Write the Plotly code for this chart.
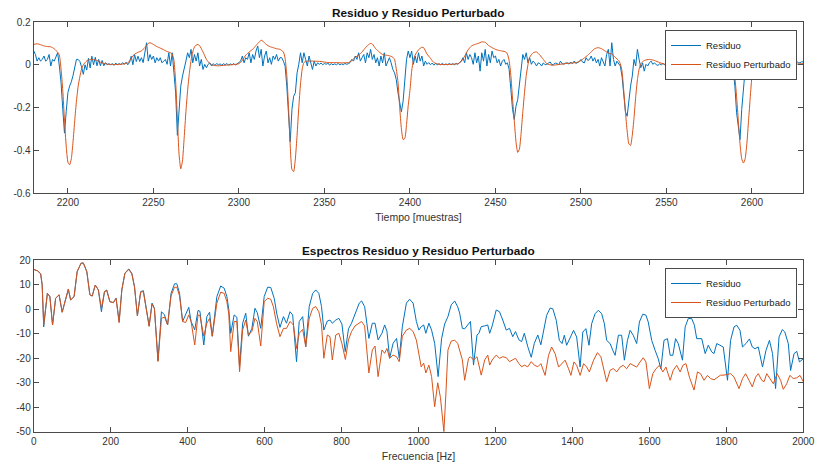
import plotly.graph_objects as go

# ---------------- Top panel data: Residuo (per sample) ----------------
t_start = 2180
residuo = [
    0.065, 0.048, 0.017, 0.033, 0.017, 0.025, 0.041, 0.017, 0.025, 0.048,   # 2180
    -0.006, 0.025, 0.017, 0.041, 0.056, -0.006, -0.084, -0.209, -0.32, -0.22,  # 2190
    -0.13, -0.10, -0.08, -0.05, -0.01, 0.025, 0.025, 0.015, -0.01, -0.045,  # 2200
    0.0, -0.025, 0.03, -0.015, 0.04, 0.0, 0.035, -0.005, 0.025, -0.005,     # 2210
    0.02, -0.005, 0.01, 0.0, 0.005, 0.0, 0.005, -0.003, 0.008, 0.0,         # 2220
    0.006, 0.0, 0.01, 0.002, 0.012, 0.0, 0.01, 0.04, 0.0, 0.048,            # 2230
    0.015, 0.04, 0.015, 0.033, 0.01, 0.056, 0.103, 0.017, 0.048, 0.025,     # 2240
    0.041, 0.009, 0.033, 0.017, 0.033, 0.009, 0.017, 0.025, 0.002, 0.056,   # 2250
    -0.006, 0.056, -0.038, -0.131, -0.33, -0.21, -0.10, -0.053, -0.022, 0.017,  # 2260
    0.056, 0.033, 0.072, 0.009, 0.048, 0.017, 0.056, -0.006, 0.025, -0.022, # 2270
    0.002, -0.014, 0.002, 0.009, -0.006, 0.005, -0.003, 0.006, 0.0, 0.004,  # 2280
    -0.002, 0.005, 0.0, 0.006, -0.002, 0.004, 0.0, 0.006, -0.002, 0.005,    # 2290
    0.009, 0.017, 0.041, 0.009, 0.033, 0.025, 0.056, 0.009, 0.048, 0.025,   # 2300
    0.064, 0.088, 0.033, 0.072, -0.006, 0.041, 0.064, 0.009, 0.033, 0.002,  # 2310
    0.041, 0.025, 0.048, 0.017, 0.033, 0.033, 0.017, -0.006, -0.1, -0.209,  # 2320
    -0.36, -0.209, -0.147, -0.131, -0.038, 0.002, 0.056, 0.009, 0.056, 0.025,  # 2330
    -0.006, 0.041, 0.002, -0.022, 0.017, -0.006, 0.009, 0.002, 0.008, 0.0,  # 2340
    0.006, 0.002, 0.008, -0.002, 0.005, 0.0, 0.004, 0.0, 0.006, 0.0,        # 2350
    0.004, 0.0, 0.006, 0.002, 0.005, 0.01, 0.025, 0.017, 0.041, 0.025,      # 2360
    0.056, 0.017, 0.033, 0.048, 0.009, 0.056, 0.033, 0.072, 0.025, 0.048,   # 2370
    0.009, 0.033, -0.006, 0.041, 0.009, 0.056, -0.006, 0.017, 0.033, 0.009, # 2380
    -0.022, -0.038, -0.069, -0.131, -0.17, -0.22, -0.17, -0.053, 0.025, 0.064,  # 2390
    0.033, 0.064, 0.002, 0.041, 0.009, 0.056, 0.017, 0.041, -0.006, 0.017,  # 2400
    0.002, 0.01, 0.0, 0.008, -0.002, 0.006, 0.0, 0.005, 0.0, 0.007,         # 2410
    -0.001, 0.004, 0.0, 0.006, 0.0, 0.005, 0.0, 0.006, 0.002, 0.01,         # 2420
    0.017, 0.033, 0.009, 0.056, 0.025, 0.048, 0.033, 0.002, 0.056, 0.009,   # 2430
    0.041, -0.03, 0.056, 0.017, 0.072, -0.006, 0.048, 0.009, 0.064, 0.033,  # 2440
    0.041, 0.009, 0.025, -0.006, 0.017, 0.025, 0.002, 0.009, -0.022, -0.116,  # 2450
    -0.209, -0.256, -0.194, -0.163, -0.084, -0.006, 0.048, 0.025, 0.056, 0.009,  # 2460
    0.033, 0.002, 0.017, 0.009, -0.006, 0.009, 0.005, -0.006, 0.009, 0.0,   # 2470
    0.002, 0.008, 0.013, 0.0, 0.002, 0.008, 0.006, 0.0, 0.017, 0.005,       # 2480
    0.002, 0.008, 0.009, 0.003, 0.013, 0.005, 0.017, 0.006, 0.009, 0.015,   # 2490
    0.025, 0.012, 0.009, 0.033, 0.02, 0.025, 0.041, 0.017, 0.033, 0.009,    # 2500
    0.025, -0.006, 0.033, 0.017, -0.006, 0.048, 0.072, -0.006, 0.103, 0.025,  # 2510
    -0.006, 0.017, 0.002, -0.006, -0.053, -0.131, -0.22, -0.241, -0.163, -0.1,  # 2520
    -0.053, 0.025, -0.006, 0.072, 0.025, -0.014, 0.009, -0.03, 0.002, -0.006,  # 2530
    0.009, 0.017, 0.002, 0.009, 0.0, -0.003, 0.004, 0.0, 0.006, 0.0,        # 2540
    0.005, 0.0, 0.004, 0.0, 0.006, 0.002, 0.0, 0.005, 0.0, 0.006,          # 2550
    0.002, 0.005, 0.0, 0.007, 0.004, 0.009, 0.009, 0.02, 0.033, 0.045,      # 2560
    0.056, 0.03, 0.009, 0.033, -0.022, 0.048, 0.072, -0.006, 0.056, 0.033,  # 2570
    -0.022, 0.048, -0.006, 0.072, 0.025, 0.002, 0.041, -0.006, 0.009, -0.022,  # 2580
    -0.1, -0.225, -0.30, -0.35, -0.209, -0.1, -0.022, 0.041, 0.025, 0.07,   # 2590
    0.07, 0.056, -0.006, 0.009, -0.014, 0.002, 0.009, 0.002, 0.009, 0.005,  # 2600
    0.013, 0.005, 0.002, 0.008, 0.009, 0.004, 0.002, 0.008, 0.006, 0.01,    # 2610
    0.013, 0.008, 0.006, 0.012, 0.009, 0.015, 0.017, 0.01, 0.009, 0.014,    # 2620
    0.013,                                                                   # 2630
]
muestras = list(range(t_start, t_start + len(residuo)))

# ---------------- Top panel data: Residuo Perturbado ----------------
perturbado_pts = [
    (2180, 0.095), (2182, 0.098), (2184, 0.094), (2186, 0.088), (2188, 0.085),
    (2190, 0.084), (2192, 0.075), (2194, 0.058), (2195, 0.045), (2196, -0.02),
    (2197, -0.12), (2198, -0.26), (2199, -0.38), (2200, -0.455), (2201, -0.468),
    (2202, -0.44), (2203, -0.36), (2204, -0.26), (2205, -0.17), (2206, -0.10),
    (2207, -0.055), (2208, -0.02), (2209, 0.0), (2211, 0.018), (2213, 0.025),
    (2215, 0.024), (2217, 0.02), (2219, 0.012), (2221, 0.006), (2224, 0.002),
    (2228, 0.001), (2232, 0.003), (2235, 0.008), (2237, 0.03), (2239, 0.05),
    (2241, 0.058), (2243, 0.065), (2245, 0.08), (2247, 0.1), (2248, 0.103),
    (2250, 0.095), (2252, 0.085), (2254, 0.078), (2256, 0.07), (2258, 0.062),
    (2260, 0.056), (2261, 0.05), (2262, 0.02), (2263, -0.08), (2264, -0.25),
    (2265, -0.42), (2266, -0.487), (2267, -0.45), (2268, -0.34), (2269, -0.22),
    (2270, -0.12), (2271, -0.04), (2272, 0.02), (2273, 0.06), (2274, 0.083),
    (2275, 0.092), (2276, 0.095), (2277, 0.09), (2279, 0.06), (2281, 0.025),
    (2283, 0.005), (2285, -0.003), (2288, -0.005), (2292, -0.002), (2296, 0.0),
    (2300, 0.005), (2302, 0.02), (2304, 0.045), (2306, 0.06), (2308, 0.072),
    (2310, 0.09), (2312, 0.108), (2313, 0.115), (2314, 0.11), (2316, 0.095),
    (2318, 0.085), (2320, 0.08), (2322, 0.075), (2324, 0.072), (2326, 0.06),
    (2327, 0.03), (2328, -0.05), (2329, -0.2), (2330, -0.38), (2331, -0.49),
    (2332, -0.5), (2333, -0.44), (2334, -0.33), (2335, -0.2), (2336, -0.09),
    (2337, -0.02), (2338, 0.01), (2340, 0.017), (2344, 0.017), (2348, 0.015),
    (2352, 0.01), (2356, 0.01), (2360, 0.009), (2364, 0.01), (2366, 0.02),
    (2368, 0.035), (2370, 0.045), (2372, 0.06), (2374, 0.08), (2376, 0.095),
    (2377, 0.1), (2378, 0.097), (2380, 0.075), (2382, 0.06), (2384, 0.048),
    (2386, 0.045), (2388, 0.042), (2390, 0.035), (2391, 0.025), (2392, -0.02),
    (2393, -0.08), (2394, -0.2), (2395, -0.3), (2396, -0.35), (2397, -0.345),
    (2398, -0.28), (2399, -0.19), (2400, -0.12), (2401, -0.03), (2402, 0.02),
    (2403, 0.045), (2405, 0.07), (2407, 0.082), (2408, 0.08), (2410, 0.05),
    (2412, 0.03), (2414, 0.01), (2417, 0.002), (2420, 0.001), (2424, 0.002),
    (2428, 0.005), (2430, 0.015), (2432, 0.04), (2434, 0.07), (2436, 0.088),
    (2438, 0.095), (2440, 0.1), (2442, 0.107), (2444, 0.105), (2446, 0.09),
    (2448, 0.08), (2450, 0.072), (2452, 0.067), (2454, 0.064), (2456, 0.06),
    (2457, 0.05), (2458, 0.02), (2459, -0.05), (2460, -0.16), (2461, -0.26),
    (2462, -0.36), (2463, -0.41), (2464, -0.395), (2465, -0.32), (2466, -0.22),
    (2467, -0.13), (2468, -0.05), (2469, 0.0), (2470, 0.035), (2472, 0.056),
    (2474, 0.06), (2476, 0.045), (2478, 0.025), (2480, 0.005), (2483, -0.002),
    (2487, 0.001), (2491, 0.006), (2495, 0.008), (2498, 0.012), (2500, 0.02),
    (2502, 0.032), (2504, 0.045), (2506, 0.06), (2508, 0.075), (2510, 0.08),
    (2512, 0.075), (2514, 0.065), (2516, 0.055), (2518, 0.05), (2520, 0.035),
    (2522, 0.02), (2523, 0.005), (2524, -0.03), (2525, -0.12), (2526, -0.22),
    (2527, -0.31), (2528, -0.37), (2529, -0.378), (2530, -0.33), (2531, -0.25),
    (2532, -0.15), (2533, -0.07), (2534, -0.02), (2535, 0.005), (2537, 0.02),
    (2540, 0.025), (2543, 0.02), (2546, 0.01), (2550, 0.0), (2555, -0.002),
    (2560, 0.002), (2564, 0.01), (2566, 0.025), (2568, 0.04), (2570, 0.055),
    (2572, 0.07), (2574, 0.08), (2576, 0.085), (2578, 0.088), (2580, 0.085),
    (2582, 0.07), (2584, 0.055), (2586, 0.035), (2588, 0.02), (2589, 0.0),
    (2590, -0.06), (2591, -0.15), (2592, -0.26), (2593, -0.37), (2594, -0.44),
    (2595, -0.46), (2596, -0.44), (2597, -0.37), (2598, -0.26), (2599, -0.15),
    (2600, -0.05), (2601, 0.01), (2602, 0.035), (2604, 0.04), (2606, 0.025),
    (2608, 0.012), (2610, 0.003), (2614, -0.001), (2618, 0.0), (2622, -0.002),
    (2626, 0.003), (2630, 0.005),
]
pert_t = [p[0] for p in perturbado_pts]
pert_v = [p[1] for p in perturbado_pts]

# ---------------- Bottom panel data: spectra (Hz, dB) ----------------
espectro_residuo = [
    (0, 16.3), (10, 15.7), (18, 14.5), (22, 10), (26, -7.2), (30, 0), (35.5, 6.5),
    (42, 5.2), (49, -6.4), (57, 4.5), (66, 5.9), (74, -1.2), (82, 4), (90, 8.2),
    (96, 3.8), (105, 5.2), (113, 15.4), (123, 18.8), (129, 18.9), (138, 15.4),
    (146, 5.9), (152, 5.4), (160, 9.9), (168, 7.9), (176, -1), (184, 7.2),
    (190, 7.9), (198, 3.1), (207, 2.7), (214, 4.5), (222, -5), (229, 7.9),
    (237, 14.7), (247, 16.5), (255, 14.7), (262, 9.3), (269.5, -2.7), (278, 7.2),
    (285, 7.6), (292, 1.1), (300, -6.8), (307.6, 2.5), (313.7, 0.4), (323, -21),
    (332, -1), (340, -2.3), (348, -6.4), (357, 6.5), (366, 10.4), (372, 10.4),
    (379, 6.5), (387, -5), (395, -2.3), (403, 0.8), (409, -5), (418.5, -8.4),
    (427, -0.5), (432, -0.8), (442, -14.6), (450, -3), (457, -1.2), (464, -11),
    (476, 5.2), (486, 9.5), (495, 8.6), (502, 5.2), (507, 0), (512, -9.8),
    (521, -2.3), (528, -3.3), (535, -23.4), (543, -5.7), (551, -1.6), (558, -11),
    (567, -7.8), (575, 0.4), (581, -1.4), (590, -7.8), (599, 5.2), (608, 9),
    (616, 8.9), (625, 4.5), (632, -2), (640, -7.4), (649, -3), (657, -5.7),
    (666, -1), (673, -2.3), (683, -21.4), (690, -5), (699, -3), (707, -15.3),
    (716, 1.1), (725, 6.5), (733, 7.9), (741, 6.5), (748, 1.1), (754, -8.5),
    (763, -4.8), (770, -4.4), (776, -5.7), (785, -4.4), (793, -3.7), (801, -6),
    (809.5, -17.3), (818, -8), (826, -5.7), (835, -2.3), (846, 2.5), (852, 3.4),
    (860, 1.1), (871, -11.9), (880, -5.7), (887, -5.7), (895, -12.5), (905, -9.8),
    (912, -6.4), (918, -9), (925, -20), (934, -13.9), (943, -11.9), (950, -20),
    (958, -7.1), (968.5, 2.5), (977, 4.1), (986, 2.5), (994.5, -5), (1001, -8.5),
    (1007, -7.1), (1013.5, -6.4), (1019, -9.8), (1027, -5.7), (1034, -8.5),
    (1042, -13.9), (1051, -27.5), (1060, -12), (1068, -6), (1076.5, -3),
    (1085, 1.8), (1094, 3.4), (1102, 1), (1107, -1.6), (1114, -7.8), (1120, -8),
    (1130, -5.7), (1135, -5), (1143, -22.8), (1152, -10.5), (1157, -9.8),
    (1163, -7.1), (1172, -6.8), (1180, -6.4), (1185, -9.8), (1191.5, -6.8),
    (1202, -0.3), (1210.5, -1), (1219, -4.4), (1228, -8.5), (1236.5, -7.8),
    (1245, -11.2), (1252, -9.1), (1261, -12.5), (1268, -13.2), (1275, -9.8),
    (1284, -15.3), (1293, -19.6), (1301, -13.9), (1310, -10.5), (1318, -14.5),
    (1325, -8.6), (1333, -2.5), (1342, 0.5), (1349, 0.2), (1358, -4.5),
    (1366, -12.7), (1373, -14), (1379, -10.6), (1385, -14.7), (1394, -11.3),
    (1403, -8.6), (1411, -11.3), (1420, -23.6), (1427, -9.3), (1435, -7.9),
    (1443, -14.7), (1450, -5.9), (1459, -1.8), (1467.5, -0.4), (1476, -1.8),
    (1483, -5.9), (1489, -12.7), (1498, -14), (1505, -16.8), (1511, -18.8),
    (1519.5, -10.6), (1528, -10.6), (1535, -20.8), (1543, -12.7), (1550, -8.6),
    (1558, -10.6), (1567, -14), (1574, -5.2), (1583, -2), (1591, -2.4),
    (1597, -5.2), (1606, -12.7), (1615, -16.8), (1623, -20.2), (1630, -24.3),
    (1638, -12.7), (1647, -12), (1654, -18.8), (1661, -18.8), (1668, -12),
    (1675, -14), (1686, -20.8), (1693, -7.2), (1701, -3.8), (1710, -3.8),
    (1717, -6.5), (1723, -12), (1736, -12), (1745, -18.1), (1753, -14.7),
    (1762, -17.4), (1768, -18.1), (1775, -14), (1783.5, -14.7), (1792, -15.4),
    (1803, -29), (1811, -12.7), (1820, -7.2), (1827, -6.5), (1835.5, -8.6),
    (1842, -15.4), (1851, -14), (1860, -12.1), (1867.5, -15.4), (1874.5, -16.1),
    (1883, -15.4), (1894, -23.6), (1903, -16.8), (1912, -12.7), (1920, -18.1),
    (1928, -32.4), (1937, -11.3), (1945.5, -8.3), (1952, -9.3), (1961, -14),
    (1967, -25), (1976, -18.1), (1983, -17.2), (1990, -21.5), (2000, -20.2),
]
espectro_perturbado = [
    (0, 16.3), (10, 15.7), (18, 14.5), (22, 10), (26, -6.3), (30, 0), (35.5, 6.5),
    (42, 5.2), (49, -6.4), (57, 4.5), (66, 5.9), (74, -1.2), (82, 4), (90, 8.2),
    (96, 3.8), (105, 5.2), (113, 15.4), (123, 18.8), (129, 18.9), (138, 15.4),
    (146, 5.9), (152, 5.4), (160, 9.9), (168, 7.9), (176, 0.4), (184, 7.2),
    (190, 7.6), (198, 3.1), (207, 2.7), (214, 4.5), (222, -5.5), (229, 7.9),
    (237, 14.7), (247, 16.2), (255, 14.5), (262, 9), (269.5, -2.7), (278, 7.0),
    (285, 7.2), (292, 1), (300, -7), (307.6, 2.2), (313.7, 0.2), (323, -21.3),
    (332, -3.7), (340, -3.2), (348, -6.4), (357, 5.5), (366, 9), (372, 9),
    (379, 5.5), (387, -5), (395, -5.4), (403, -2.3), (409, -5), (418.5, -14.6),
    (427, -2.3), (432, -2.6), (442, -11), (450, -5.7), (457, -3.7), (464, -11),
    (476, 2.5), (486, 7), (495, 6.5), (502, 3.1), (507, -2), (512, -17.3),
    (521, -5), (528, -5), (535, -25.5), (543, -8.4), (551, -4.4), (558, -10.5),
    (567, -9.1), (575, -3.7), (581, -5), (590, -15), (599, 3.1), (608, 4.5),
    (616, 4.1), (623, 1), (631, -5.7), (640, -11.2), (649, -7.8), (657, -7.8),
    (666, -5), (675, -6.4), (683, -16), (690, -9.8), (699, -8.2), (707, -15.3),
    (716, -3.7), (725, 0.4), (733, 1.1), (741, -1), (748, -6.4), (754, -20),
    (763, -10.5), (770, -11.2), (776, -20.7), (785, -10.5), (793, -9.8),
    (801, -14), (810, -20.5), (818, -12.5), (826, -9.1), (835, -6.8), (846, -5.7),
    (852, -5), (860, -6.8), (871, -26), (880, -16.6), (887, -15), (895, -27.5),
    (905, -16.6), (912, -18), (918, -16), (925, -20), (934, -18.7), (943, -19.4),
    (950, -21.4), (958, -11), (968.5, -8.5), (977, -7.8), (986, -9.1),
    (994.5, -12.6), (1001, -18), (1007, -23.5), (1013.5, -22), (1019, -26),
    (1027, -22.8), (1034, -27.5), (1042, -39.8), (1050, -30), (1057, -36),
    (1066, -50), (1071, -35), (1076.5, -16.6), (1085, -13), (1094, -12.6),
    (1102, -14), (1107, -16.6), (1114, -20.7), (1120, -29), (1130, -20),
    (1135, -19.4), (1143, -20.7), (1152, -19.4), (1157, -22.8), (1163, -26.9),
    (1172, -20.7), (1180, -18.7), (1185, -22.8), (1191.5, -20.7), (1202, -18.7),
    (1210.5, -20), (1219, -19.4), (1228, -19.7), (1236.5, -21.4), (1245, -20.7),
    (1252, -20), (1261, -22.2), (1268, -23.5), (1275, -22.8), (1284, -23.5),
    (1293, -21.4), (1301, -22.8), (1310, -23.5), (1318, -22.2), (1329, -27),
    (1338, -18.8), (1346, -15.4), (1355, -18.1), (1364, -23.6), (1372, -22.2),
    (1381, -20.8), (1390, -24.3), (1396, -27), (1404, -21.5), (1411, -22.9),
    (1420, -27), (1429, -22.2), (1437, -23.6), (1444, -25.6), (1455, -20.8),
    (1465, -17.7), (1474, -19.4), (1482, -24.9), (1489, -29.6), (1498, -24.9),
    (1506.5, -24.2), (1515, -25.6), (1524, -23.6), (1532, -22.9), (1541, -24.3),
    (1550, -22.2), (1558, -22.9), (1567, -23.6), (1576, -21.5), (1584, -19.8),
    (1591, -21.5), (1600, -32.4), (1609, -26.3), (1617, -24.3), (1626, -22.9),
    (1635, -25.6), (1643, -23.6), (1654, -29), (1662, -24.9), (1671, -22.9),
    (1680, -25.6), (1687, -22.9), (1695, -22.2), (1704, -27.7), (1716, -33),
    (1725, -25.6), (1733, -26.3), (1742, -29), (1751, -27), (1759, -28.3),
    (1768, -28.8), (1777, -27.7), (1785, -26.9), (1794, -26.9), (1803, -26.6),
    (1811, -26.3), (1820, -27.7), (1833, -32.4), (1842, -28.3), (1850, -26.3),
    (1859, -29), (1867.5, -31.7), (1876, -27.7), (1883, -26.3), (1892, -29),
    (1898, -29.6), (1905, -26.3), (1914, -28.8), (1922, -30.4), (1932, -26.3),
    (1941, -29), (1948, -32.7), (1957, -30.4), (1965, -27), (1974, -28.3),
    (1983, -28), (1991.5, -27), (2000, -29.6),
]
f_res = [p[0] for p in espectro_residuo]
v_res = [p[1] for p in espectro_residuo]
f_pert = [p[0] for p in espectro_perturbado]
v_pert = [p[1] for p in espectro_perturbado]

# ---------------- Tick labels ----------------
top_xticks = [2200, 2250, 2300, 2350, 2400, 2450, 2500, 2550, 2600]
top_yticks = [-0.6, -0.4, -0.2, 0, 0.2]
top_ytext = ["-0.6", "-0.4", "-0.2", "0", "0.2"]
bot_xticks = [0, 200, 400, 600, 800, 1000, 1200, 1400, 1600, 1800, 2000]
bot_yticks = [-50, -40, -30, -20, -10, 0, 10, 20]
bot_ytext = ["-50", "-40", "-30", "-20", "-10", "0", "10", "20"]

BLUE = "#0072BD"
ORANGE = "#D95319"
AX = "#4a4a4a"
FONT = "Liberation Sans, Arial, sans-serif"

fig = go.Figure()
fig.add_trace(go.Scatter(x=muestras, y=residuo, mode="lines", name="Residuo",
                         line=dict(color=BLUE, width=1), xaxis="x", yaxis="y",
                         legend="legend"))
fig.add_trace(go.Scatter(x=pert_t, y=pert_v, mode="lines", name="Residuo Perturbado",
                         line=dict(color=ORANGE, width=1, shape="spline", smoothing=0.5),
                         xaxis="x", yaxis="y", legend="legend"))
fig.add_trace(go.Scatter(x=f_res, y=v_res, mode="lines", name="Residuo",
                         line=dict(color=BLUE, width=1), xaxis="x2", yaxis="y2",
                         legend="legend2"))
fig.add_trace(go.Scatter(x=f_pert, y=v_pert, mode="lines", name="Residuo Perturbado",
                         line=dict(color=ORANGE, width=1), xaxis="x2", yaxis="y2",
                         legend="legend2"))

W, H = 815, 466


def px(x):
    return x / W


def py(y):
    return 1 - y / H


axis_common = dict(showline=True, linecolor=AX, linewidth=1, mirror="ticks",
                   ticks="inside", ticklen=5, tickcolor=AX, showgrid=False,
                   zeroline=False, automargin=False,
                   tickfont=dict(family=FONT, size=10, color="#333333"))

legend_common = dict(bgcolor="white", bordercolor=AX, borderwidth=1,
                     font=dict(family=FONT, size=9.5, color="#222222"),
                     xanchor="right", yanchor="top", itemwidth=30,
                     tracegroupgap=0)

fig.update_layout(
    width=W, height=H,
    margin=dict(l=0, r=0, t=0, b=0, autoexpand=False),
    paper_bgcolor="white", plot_bgcolor="white",
    font=dict(family=FONT, color="#262626"),
    xaxis=dict(domain=[px(33.7), px(803.3)], range=[2180, 2630], tickvals=top_xticks,
               anchor="y",
               title=dict(text="Tiempo [muestras]", font=dict(family=FONT, size=10.5, color="#333333"),
                          standoff=6),
               **axis_common),
    yaxis=dict(domain=[py(193), py(22)], range=[-0.6, 0.2], tickvals=top_yticks,
               ticktext=top_ytext, anchor="x", **axis_common),
    xaxis2=dict(domain=[px(33.7), px(803.3)], range=[0, 2000], tickvals=bot_xticks, anchor="y2",
                title=dict(text="Frecuencia [Hz]", font=dict(family=FONT, size=10.5, color="#333333"),
                           standoff=6),
                **axis_common),
    yaxis2=dict(domain=[py(431.7), py(260.3)], range=[-50, 20], tickvals=bot_yticks,
                ticktext=bot_ytext, anchor="x2", **axis_common),
    legend=dict(x=px(797), y=py(30), **legend_common),
    legend2=dict(x=px(797), y=py(268), **legend_common),
    annotations=[
        dict(text="<b>Residuo y Residuo Perturbado</b>", x=px(418), y=py(13.3),
             xref="paper", yref="paper", showarrow=False, xanchor="center", yanchor="middle",
             font=dict(family=FONT, size=11.8, color="#111111")),
        dict(text="<b>Espectros Residuo y Residuo Perturbado</b>", x=px(418), y=py(251),
             xref="paper", yref="paper", showarrow=False, xanchor="center", yanchor="middle",
             font=dict(family=FONT, size=11.8, color="#111111")),
    ],
)

# remove the browser's default 8px body margin so the figure fills the window exactly
fig.write_html("out.html", config={"displayModeBar": False},
               post_script="document.body.style.margin='0px';")
